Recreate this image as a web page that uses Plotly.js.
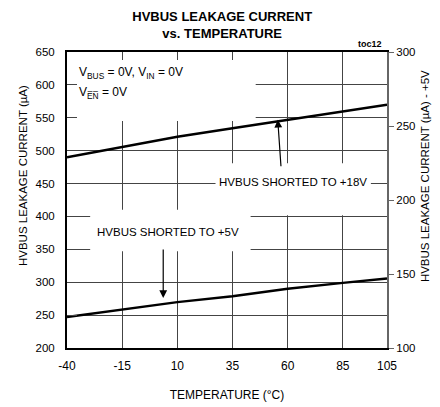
<!DOCTYPE html>
<html>
<head>
<meta charset="utf-8">
<script src="https://cdn.plot.ly/plotly-3.0.1.min.js"></script>
<style>html,body{margin:0;padding:0;background:#fff;}#chart{width:440px;height:407px;}</style>
</head>
<body>
<div id="chart"></div>
<script>
// Data
const temperature = [-40, -15, 10, 35, 60, 85, 105];
const leakage18V = [490, 506, 521, 534, 547, 559, 570];   // left axis, uA
const leakage5V  = [121, 126, 131, 135, 140, 144, 147];   // right axis, uA
const xTicks = [-40, -15, 10, 35, 60, 85, 105];

const FONT = 'Liberation Sans, Arial, sans-serif';

const traces = [
  {x: temperature, y: leakage18V, type: 'scatter', mode: 'lines',
   line: {color: '#000', width: 2.5}, yaxis: 'y', hoverinfo: 'skip'},
  {x: temperature, y: leakage5V, type: 'scatter', mode: 'lines',
   line: {color: '#000', width: 2.5}, yaxis: 'y2', hoverinfo: 'skip'}
];

const gridCol = '#444';
const layout = {
  width: 440, height: 407,
  margin: {l: 67, r: 53, t: 52, b: 59},
  paper_bgcolor: '#fff', plot_bgcolor: '#fff',
  showlegend: false,
  font: {family: FONT, size: 12, color: '#000'},
  title: {text: '<b>HVBUS LEAKAGE CURRENT<br>vs. TEMPERATURE</b>',
          font: {family: FONT, size: 13, color: '#000'},
          x: 0.505, xanchor: 'center', yref: 'container', y: 0.948, yanchor: 'middle'},
  xaxis: {
    range: [-40, 105], tickvals: xTicks, ticktext: xTicks.map(String),
    showgrid: true, gridcolor: gridCol, gridwidth: 1,
    showline: true, linecolor: '#000', linewidth: 2, mirror: 'ticks',
    ticks: 'inside', ticklen: 8, tickcolor: gridCol, tickwidth: 1,
    ticklabelstandoff: 6,
    zeroline: false, fixedrange: true,
    tickfont: {family: FONT, size: 12},
    title: {text: 'TEMPERATURE (°C)', font: {family: FONT, size: 12}, standoff: 18}
  },
  yaxis: {
    range: [200, 650], dtick: 50, tick0: 200,
    showgrid: true, gridcolor: gridCol, gridwidth: 1,
    showline: true, linecolor: '#000', linewidth: 2,
    ticks: 'inside', ticklen: 10, tickcolor: gridCol, tickwidth: 1,
    ticklabelstandoff: 8,
    zeroline: false, fixedrange: true,
    tickfont: {family: FONT, size: 11.5}
  },
  yaxis2: {
    range: [100, 300], dtick: 50, tick0: 100,
    overlaying: 'y', side: 'right', showgrid: false,
    showline: true, linecolor: '#666', linewidth: 2,
    ticks: 'outside', ticklen: 5, tickcolor: '#666', tickwidth: 1,
    zeroline: false, fixedrange: true,
    tickfont: {family: FONT, size: 11.5}
  },
  shapes: [
    {type: 'rect', layer: 'between', xref: 'x', yref: 'y', x0: -35.5, x1: 45.5, y0: 545, y1: 650,
     fillcolor: '#fff', line: {width: 0}},
    {type: 'rect', layer: 'between', xref: 'x', yref: 'y', x0: 27.3, x1: 97.7, y0: 402, y1: 481,
     fillcolor: '#fff', line: {width: 0}},
    {type: 'rect', layer: 'between', xref: 'x', yref: 'y', x0: -29.5, x1: 43.2, y0: 347, y1: 410,
     fillcolor: '#fff', line: {width: 0}}
  ],
  annotations: [
    {xref: 'paper', yref: 'paper', x: -0.1375, y: 0.581, xanchor: 'center', yanchor: 'middle',
     textangle: -90, showarrow: false, text: 'HVBUS LEAKAGE CURRENT (µA)', font: {family: FONT, size: 11.5}},
    {xref: 'paper', yref: 'paper', x: 1.119, y: 0.581, xanchor: 'center', yanchor: 'middle',
     textangle: -90, showarrow: false, text: 'HVBUS LEAKAGE CURRENT (µA) - +5V', font: {family: FONT, size: 11.5}},
    {xref: 'paper', yref: 'paper', x: 0.99, y: 1.004, xanchor: 'right', yanchor: 'bottom',
     text: '<b>toc12</b>', showarrow: false, font: {family: FONT, size: 9}},
    {xref: 'x', yref: 'y', x: -35.5, y: 618, xanchor: 'left', yanchor: 'middle', showarrow: false,
     text: 'V<sub>BUS</sub> = 0V, V<sub>IN</sub> = 0V', font: {family: FONT, size: 12}},
    {xref: 'x', yref: 'y', x: -35.5, y: 588, xanchor: 'left', yanchor: 'middle', showarrow: false,
     text: 'V<sub>E\u0305N\u0305</sub> = 0V', font: {family: FONT, size: 12}},
    {xref: 'x', yref: 'y', x: 62.3, y: 452, xanchor: 'center', yanchor: 'middle', showarrow: false,
     text: 'HVBUS SHORTED TO +18V', font: {family: FONT, size: 11.5}},
    {xref: 'x', yref: 'y', x: 5.9, y: 376, xanchor: 'center', yanchor: 'middle', showarrow: false,
     text: 'HVBUS SHORTED TO +5V', font: {family: FONT, size: 11.5}},
    {xref: 'x', yref: 'y', axref: 'x', ayref: 'y', x: 55.5, y: 547, ax: 57, ay: 474,
     text: '', showarrow: true, arrowhead: 2, arrowsize: 1.3, arrowwidth: 1.2, arrowcolor: '#000', standoff: 0},
    {xref: 'x', yref: 'y', axref: 'x', ayref: 'y', x: 3.6, y: 276, ax: 3.6, ay: 352,
     text: '', showarrow: true, arrowhead: 2, arrowsize: 1.3, arrowwidth: 1.2, arrowcolor: '#000', standoff: 0}
  ]
};

Plotly.newPlot('chart', traces, layout, {staticPlot: true, displayModeBar: false});
</script>
</body>
</html>
